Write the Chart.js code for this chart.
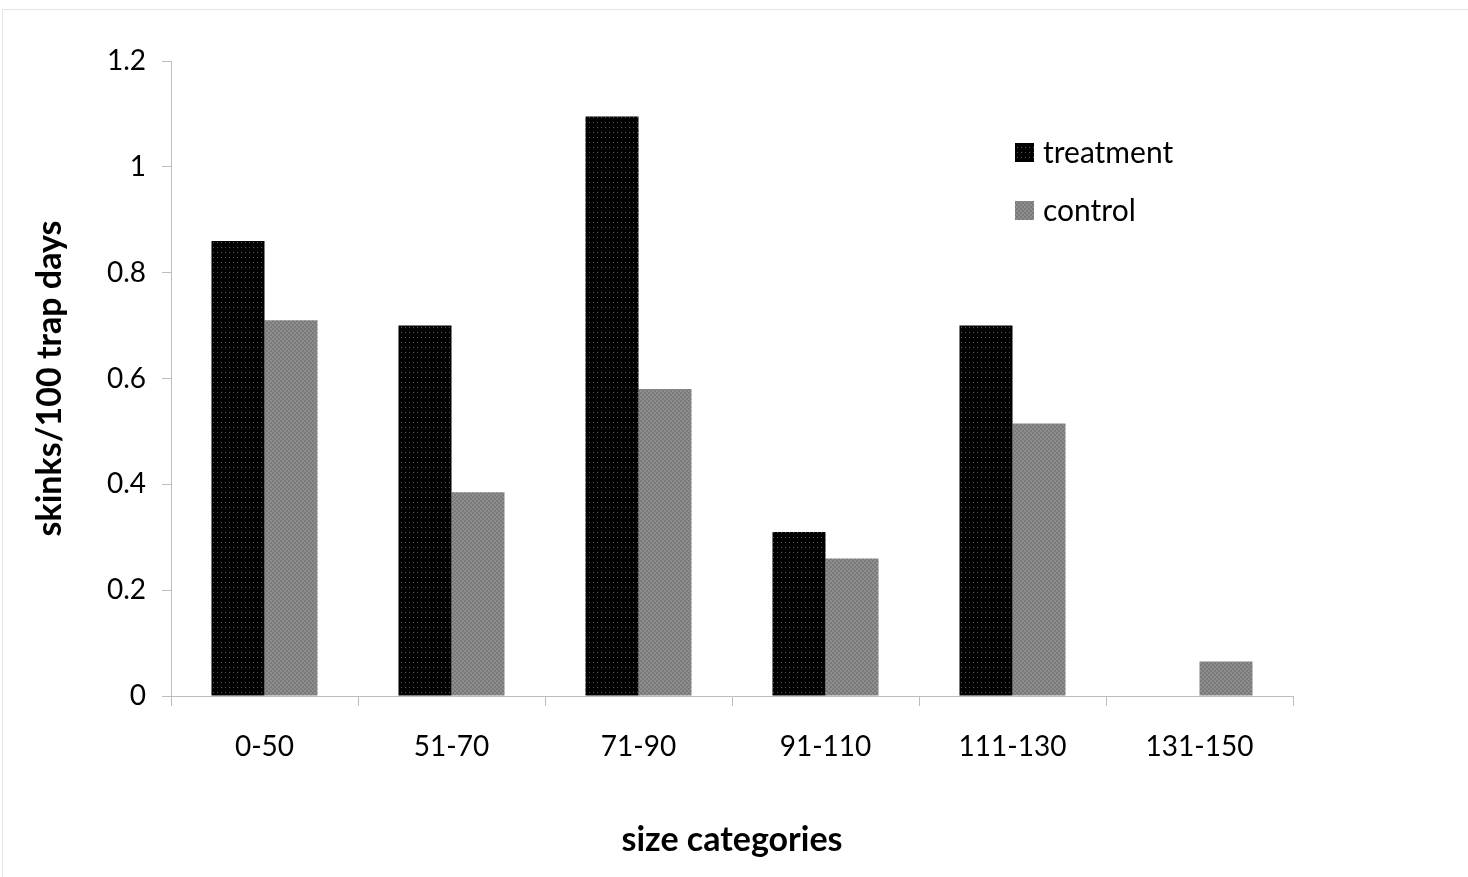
<!DOCTYPE html>
<html>
<head>
<meta charset="utf-8">
<script src="https://cdn.jsdelivr.net/npm/chart.js@4"></script>
<style>
  html, body { margin: 0; padding: 0; background: #fff; }
  #wrap { width: 1468px; height: 877px; position: relative; }
</style>
</head>
<body>
<div id="wrap"><canvas id="c" width="1468" height="877"></canvas></div>
<script>
// Size classes and capture rates (skinks per 100 trap days)
const categories = ['0-50', '51-70', '71-90', '91-110', '111-130', '131-150'];
const treatment = [0.86, 0.70, 1.095, 0.31, 0.70, 0];
const control = [0.71, 0.385, 0.58, 0.26, 0.515, 0.065];
const seriesNames = ['treatment', 'control'];
const yTicks = [0, 0.2, 0.4, 0.6, 0.8, 1, 1.2];

const FONT = 'Lato, "Open Sans", sans-serif';

// Textured fills: black with fine grey dots, and a grey checker
function makePattern(w, h, draw) {
  const cv = document.createElement('canvas');
  cv.width = w; cv.height = h;
  const g = cv.getContext('2d');
  draw(g);
  return document.getElementById('c').getContext('2d').createPattern(cv, 'repeat');
}
const darkFill = makePattern(4, 5, g => {
  g.fillStyle = '#000'; g.fillRect(0, 0, 4, 5);
  g.fillStyle = '#5a5a5a'; g.fillRect(1, 2, 1, 1);
});
const greyFill = makePattern(4, 4, g => {
  g.fillStyle = '#8e8e8e'; g.fillRect(0, 0, 4, 4);
  g.fillStyle = '#7a7a7a'; g.fillRect(0, 0, 2, 2); g.fillRect(2, 2, 2, 2);
});

// Legend placed inside the plot area, upper right
const insideLegend = {
  id: 'insideLegend',
  afterDraw(chart) {
    const ctx = chart.ctx;
    const rows = [153, 211];
    ctx.save();
    chart.data.datasets.forEach((ds, i) => {
      const y = rows[i];
      ctx.fillStyle = ds.backgroundColor;
      ctx.fillRect(1015, y - 10, 19, 19);
      ctx.fillStyle = '#000';
      ctx.font = '30px ' + FONT;
      ctx.textBaseline = 'middle';
      ctx.textAlign = 'left';
      ctx.fillText(ds.label, 1043, y);
    });
    ctx.restore();
  }
};

// Thin frame around the figure
const frame = {
  id: 'frame',
  beforeDraw(chart) {
    const ctx = chart.ctx;
    ctx.save();
    ctx.strokeStyle = '#e6e6e6';
    ctx.lineWidth = 1;
    ctx.strokeRect(2.5, 9.5, 1480, 900);
    ctx.restore();
  }
};

const axisGrey = '#bdbdbd';

new Chart(document.getElementById('c'), {
  type: 'bar',
  data: {
    labels: categories,
    datasets: [
      { label: seriesNames[0], data: treatment, backgroundColor: darkFill },
      { label: seriesNames[1], data: control, backgroundColor: greyFill }
    ]
  },
  options: {
    responsive: false,
    animation: false,
    devicePixelRatio: 1,
    categoryPercentage: 0.567,
    barPercentage: 1,
    layout: { padding: { top: 61, right: 175, bottom: 0, left: 0 } },
    plugins: {
      legend: { display: false },
      tooltip: { enabled: false }
    },
    scales: {
      x: {
        offset: true,
        grid: { offset: true, drawOnChartArea: false, drawTicks: true, tickLength: 10, color: axisGrey },
        border: { color: axisGrey, width: 1 },
        ticks: { color: '#000', font: { family: FONT, size: 28 }, padding: 24, maxRotation: 0 },
        title: {
          display: true, text: 'size categories', color: '#000',
          font: { family: FONT, size: 34, weight: 'bold' },
          padding: { top: 0, bottom: 17 }
        },
        afterFit(scale) { scale.height = 181; }
      },
      y: {
        min: 0, max: 1.2,
        afterBuildTicks(scale) { scale.ticks = yTicks.map(v => ({ value: v })); },
        grid: { drawOnChartArea: false, drawTicks: true, tickLength: 9, color: axisGrey },
        border: { color: axisGrey, width: 1 },
        ticks: {
          color: '#000', font: { family: FONT, size: 28 }, padding: 16,
          callback: v => String(Number(v.toFixed(1)))
        },
        title: {
          display: true, text: 'skinks/100 trap days', color: '#000',
          font: { family: FONT, size: 34, weight: 'bold' },
          padding: { top: 30, bottom: 0 }
        },
        afterFit(scale) { scale.width = 171; }
      }
    }
  },
  plugins: [frame, insideLegend]
});
</script>
</body>
</html>
